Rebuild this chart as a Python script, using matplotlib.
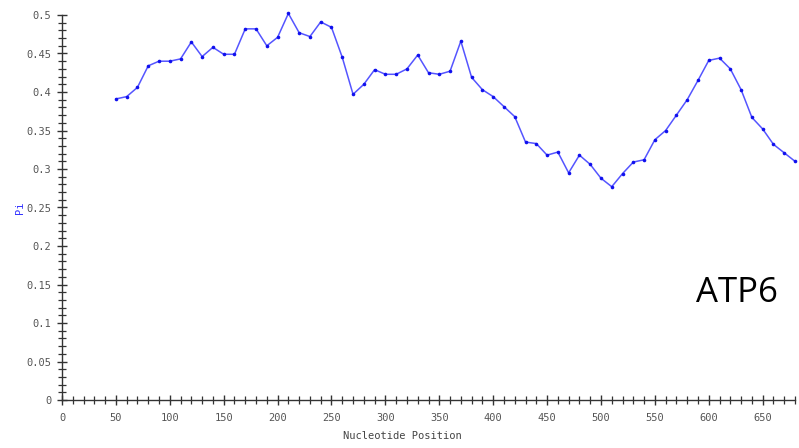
import matplotlib
matplotlib.use("Agg")
import matplotlib.pyplot as plt
from matplotlib.ticker import MultipleLocator, FixedLocator

positions = list(range(50, 690, 10))
pi_values = [0.391, 0.394, 0.406, 0.434, 0.440, 0.440, 0.443, 0.465, 0.446, 0.458,
             0.449, 0.449, 0.482, 0.482, 0.460, 0.471, 0.502, 0.477, 0.472, 0.491,
             0.484, 0.445, 0.397, 0.410, 0.429, 0.423, 0.423, 0.430, 0.448, 0.425,
             0.423, 0.427, 0.466, 0.419, 0.403, 0.394, 0.381, 0.368, 0.335, 0.333,
             0.318, 0.322, 0.295, 0.318, 0.306, 0.288, 0.277, 0.294, 0.309, 0.312,
             0.338, 0.350, 0.370, 0.390, 0.415, 0.441, 0.444, 0.430, 0.403, 0.367,
             0.352, 0.332, 0.321, 0.310]
x_ticks = [0, 50, 100, 150, 200, 250, 300, 350, 400, 450, 500, 550, 600, 650]
y_ticks = [0, 0.05, 0.1, 0.15, 0.2, 0.25, 0.3, 0.35, 0.4, 0.45, 0.5]
y_tick_labels = ["0", "0.05", "0.1", "0.15", "0.2", "0.25", "0.3", "0.35", "0.4", "0.45", "0.5"]

fig = plt.figure(figsize=(7.99, 4.48), dpi=100)
ax = fig.add_axes([62/799, 1-400/448, (795-62)/799, (400-15)/448])

ax.plot(positions, pi_values, color="#5555ff", lw=1.1, zorder=2, clip_on=False)
ax.plot(positions, pi_values, ls="none", marker="o", ms=2.6, color="#1010ee",
        markeredgewidth=0, zorder=3, clip_on=False)

ax.set_xlim(0, 680)
ax.set_ylim(0, 0.5)
ax.spines["top"].set_visible(False)
ax.spines["right"].set_visible(False)
for s in ("left", "bottom"):
    ax.spines[s].set_color("#333333")
    ax.spines[s].set_linewidth(1.0)

ax.xaxis.set_major_locator(FixedLocator(x_ticks))
ax.xaxis.set_minor_locator(MultipleLocator(10))
ax.yaxis.set_major_locator(FixedLocator(y_ticks))
ax.set_yticklabels(y_tick_labels)
ax.yaxis.set_minor_locator(MultipleLocator(0.01))

mono = "DejaVu Sans Mono"
ax.tick_params(which="major", direction="inout", length=7, width=1.0, color="#333333",
               labelsize=7.5, labelcolor="#555555")
ax.tick_params(which="minor", direction="inout", length=6, width=0.9, color="#333333")
ax.tick_params(axis="y", which="major", pad=4)
ax.tick_params(axis="x", which="major", pad=6)
for lab in ax.get_xticklabels() + ax.get_yticklabels():
    lab.set_fontfamily(mono)

fig.text(402/799, 1-436/448, "Nucleotide Position", ha="center", va="center",
         fontsize=7.5, family=mono, color="#444444")
fig.text(20/799, 1-208/448, "Pi", ha="center", va="center", rotation=90,
         fontsize=7.5, family=mono, color="#3333ff")

fig.text(737/799, 1-293/448, "ATP6", ha="center", va="center", fontsize=25,
         family="Open Sans", color="black")

fig.savefig("out.png", dpi=100)
